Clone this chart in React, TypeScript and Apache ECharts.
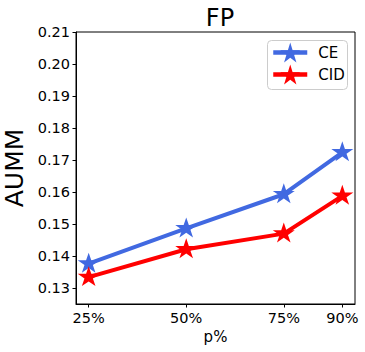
import React, { useEffect, useRef } from "react";
import * as echarts from "echarts";

const xValues = [25, 50, 75, 90];
const xTickLabels = ["25%", "50%", "75%", "90%"];
const yTicks = [0.13, 0.14, 0.15, 0.16, 0.17, 0.18, 0.19, 0.2, 0.21];
const ceValues = [0.1376, 0.1486, 0.1593, 0.1724];
const cidValues = [0.1334, 0.1421, 0.147, 0.1588];
const seriesNames = ["CE", "CID"];

const STAR =
  "path://M0,-1 L0.2245,-0.309 L0.951,-0.309 L0.3633,0.118 L0.5878,0.809 L0,0.382 L-0.5878,0.809 L-0.3633,0.118 L-0.951,-0.309 L-0.2245,-0.309 Z";

const FONT = "DejaVu Sans";

export default function App() {
  const ref = useRef<HTMLDivElement>(null);
  useEffect(() => {
    document.body.style.margin = "0";
    if (!ref.current) return;
    const chart = echarts.init(ref.current, null, { renderer: "svg" });
    const mk = (name: string, color: string, vals: number[]) => ({
      name,
      type: "line",
      data: xValues.map((x, i) => [x, vals[i]]),
      symbol: STAR,
      symbolSize: [22, 21],
      symbolOffset: [0, -1],
      symbolKeepAspect: true,
      lineStyle: { color, width: 4 },
      itemStyle: { color, borderWidth: 0 },
      emphasis: { disabled: true },
    });
    const legendBase = {
      left: 271,
      z: 5,
      orient: "vertical",
      itemWidth: 34,
      itemHeight: 25,
      padding: 0,
      lineStyle: { width: 4.5 },
      textStyle: { fontFamily: FONT, fontSize: 15, color: "#000", padding: [0, 0, 0, 6] },
    };
    chart.setOption({
      animation: false,
      backgroundColor: "#fff",
      textStyle: { fontFamily: FONT },
      title: {
        text: "FP",
        left: 215,
        top: 1,
        textAlign: "center",
        textStyle: { fontFamily: FONT, fontSize: 24, fontWeight: "normal", color: "#000" },
      },
      graphic: [
        {
          type: "rect",
          z: 1,
          shape: { x: 267.5, y: 40.5, width: 80, height: 49, r: 4 },
          style: { fill: "rgba(255,255,255,0.8)", stroke: "#cccccc", lineWidth: 1 },
        },
      ],
      legend: [
        { ...legendBase, top: 42.5, data: [seriesNames[0]] },
        { ...legendBase, top: 64.5, data: [seriesNames[1]] },
      ],
      grid: {
        left: 76,
        right: 10,
        top: 32,
        bottom: 48,
        outerBoundsMode: "none",
        containLabel: false,
        show: true,
        borderColor: "#000",
        borderWidth: 1,
        backgroundColor: "transparent",
      },
      xAxis: {
        type: "value",
        min: 21.75,
        max: 93.25,
        name: "p%",
        nameLocation: "middle",
        nameGap: 24,
        nameTextStyle: { fontFamily: FONT, fontSize: 15, color: "#000" },
        axisLine: { show: true, lineStyle: { color: "#000", width: 1 } },
        axisTick: { show: true, length: 3.5, lineStyle: { color: "#000" }, customValues: xValues },
        axisLabel: {
          customValues: xValues,
          formatter: (v: number) => xTickLabels[xValues.indexOf(v)] ?? "",
          fontFamily: FONT,
          fontSize: 14.5,
          color: "#000",
          margin: 6,
        },
        splitLine: { show: false },
      },
      yAxis: {
        type: "value",
        min: 0.125,
        max: 0.21,
        name: "AUMM",
        nameLocation: "middle",
        nameGap: 46,
        nameTextStyle: { fontFamily: FONT, fontSize: 25, color: "#000" },
        axisLine: { show: true, lineStyle: { color: "#000", width: 1 } },
        axisTick: { show: true, length: 3.5, lineStyle: { color: "#000" }, customValues: yTicks },
        axisLabel: {
          customValues: yTicks,
          formatter: (v: number) => v.toFixed(2),
          fontFamily: FONT,
          fontSize: 14.5,
          color: "#000",
          margin: 6,
        },
        splitLine: { show: false },
      },
      series: [
        mk(seriesNames[0], "#4169E1", ceValues),
        mk(seriesNames[1], "#FF0000", cidValues),
      ],
    });
    return () => chart.dispose();
  }, []);
  return <div ref={ref} style={{ width: 365, height: 352 }} />;
}
